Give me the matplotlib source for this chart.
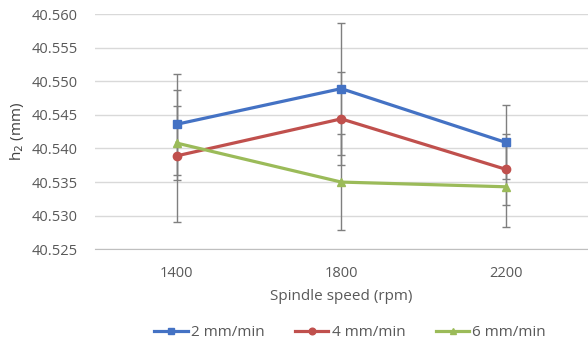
import numpy as np
import matplotlib
matplotlib.use('Agg')
import matplotlib.pyplot as plt

plt.rcParams['font.family'] = ['Open Sans', 'DejaVu Sans']

speeds = ['1400', '1800', '2200']
labels = ['2 mm/min', '4 mm/min', '6 mm/min']
h2_2 = [40.5436, 40.5489, 40.5409]
h2_4 = [40.5389, 40.5444, 40.5369]
h2_6 = [40.5408, 40.5350, 40.5343]
err_2 = [0.0075, 0.0098, 0.0055]
err_4 = [0.0098, 0.0069, 0.0053]
err_6 = [0.0055, 0.0071, 0.0060]

colors = ['#4472C4', '#C0504D', '#9BBB59']
markers = ['s', 'o', '^']
txt = '#595959'

fig = plt.figure(figsize=(5.88, 3.47), dpi=100)
ax = fig.add_axes([94.5/588, 1-249.3/347, 1-94.5/588, (249.3-14)/347])

x = np.arange(len(speeds))
series = [h2_2, h2_4, h2_6]
errs = [err_2, err_4, err_6]
for vals, e in zip(series, errs):
    ax.errorbar(x, vals, yerr=e, fmt='none', ecolor='#7f7f7f', elinewidth=1,
                capsize=3, capthick=1, zorder=2)
for vals, c, m, lab in zip(series, colors, markers, labels):
    ax.plot(x, vals, color=c, marker=m, markersize=6, linewidth=2.3,
            label=lab, zorder=3)

ax.set_xlim(-0.5, 2.5)
ax.set_ylim(40.525, 40.560)
ax.set_yticks(np.arange(40.525, 40.5601, 0.005))
ax.yaxis.set_major_formatter(matplotlib.ticker.FormatStrFormatter('%.3f'))
ax.set_xticks(x)
ax.set_xticklabels(speeds)
ax.grid(axis='y', color='#d9d9d9', linewidth=1)
ax.set_axisbelow(True)
for s in ['top', 'right', 'left']:
    ax.spines[s].set_visible(False)
ax.spines['bottom'].set_color('#bfbfbf')
ax.tick_params(axis='both', length=0, colors=txt, labelsize=10.5)
ax.tick_params(axis='x', pad=12)
ax.tick_params(axis='y', pad=12)
ax.set_xlabel('Spindle speed (rpm)', color=txt, fontsize=11, labelpad=6)
ax.set_ylabel('h$_2$ (mm)', color='#404040', fontsize=11, labelpad=4)

fig.legend(loc='center', bbox_to_anchor=(350/588, 1-333/347), ncol=3,
           frameon=False, fontsize=11, labelcolor=txt, handlelength=2.2,
           handletextpad=0.2, columnspacing=2.0, markerscale=0.8)

fig.savefig('out.png', dpi=100)
